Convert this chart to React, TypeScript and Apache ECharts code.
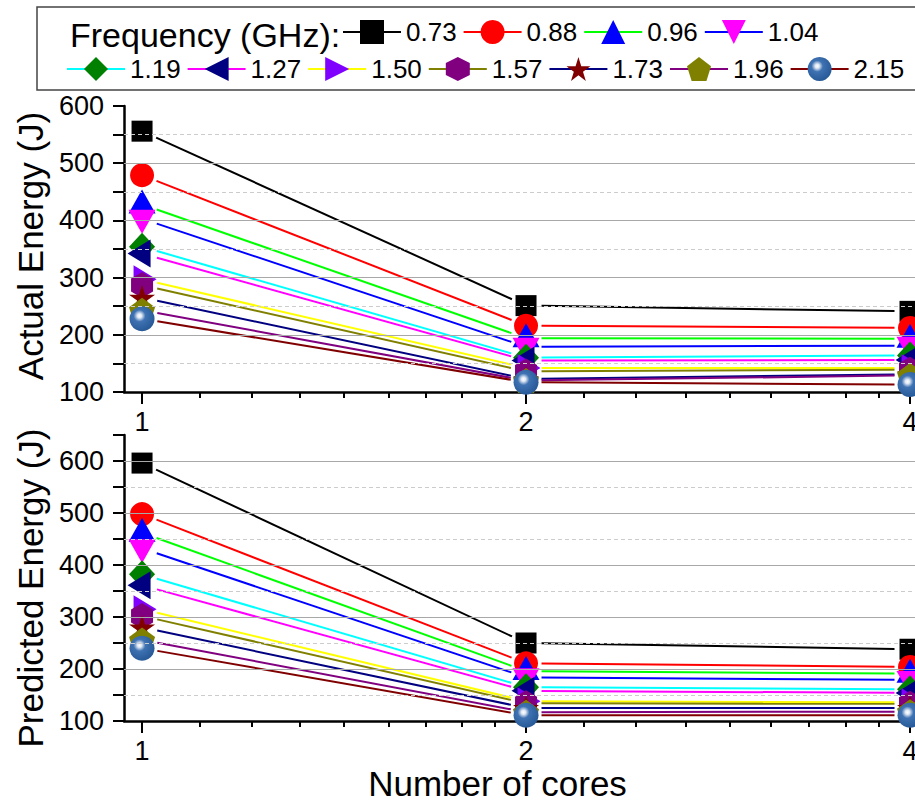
import React, { useEffect, useRef } from 'react';
import * as echarts from 'echarts';

const FONT = '"Liberation Sans", Arial, Helvetica, sans-serif';

// ---------- data ----------
const frequencies = ['0.73', '0.88', '0.96', '1.04', '1.19', '1.27', '1.50', '1.57', '1.73', '1.96', '2.15'];
const cores = [1, 2, 4];
const minorTickCores = [1.11, 1.22, 1.33, 1.44, 1.56, 1.67, 1.78, 1.89, 2.22, 2.44, 2.67, 2.89, 3.11, 3.33, 3.56, 3.78];

const actualEnergy = [
  [556, 251, 241],
  [479, 216, 212],
  [428, 194, 193],
  [403, 179, 181],
  [354, 160, 164],
  [342, 155, 156],
  [297, 142, 142],
  [287, 136, 139],
  [265, 123, 131],
  [243, 120, 129],
  [228, 117, 113],
];
const predictedEnergy = [
  [596, 250, 238],
  [498, 211, 204],
  [462, 196, 191],
  [432, 184, 179],
  [382, 165, 161],
  [361, 158, 154],
  [315, 138, 136],
  [302, 134, 133],
  [280, 125, 125],
  [256, 117, 118],
  [240, 111, 111],
];

const actualMajorGrid = [200, 300, 400, 500];
const actualMinorGrid = [150, 250, 350, 450, 550];
const predictedMajorGrid = [200, 300, 400, 500, 600];
const predictedMinorGrid = [150, 250, 350, 450, 550];

// ---------- styles ----------
const lineColors = ['#000000', '#FF0000', '#00FF00', '#0000FF', '#00FFFF', '#FF00FF', '#FFFF00', '#808000', '#000080', '#800080', '#800000'];
const sphere = new echarts.graphic.RadialGradient(0.4, 0.38, 0.62, [
  { offset: 0, color: '#ffffff' },
  { offset: 0.14, color: '#dfe8f4' },
  { offset: 0.38, color: '#3f72b2' },
  { offset: 1, color: '#285a98' },
]);
const markerColors: any[] = ['#000000', '#FF0000', '#0000FF', '#FF00FF', '#008000', '#000080', '#8000FF', '#800080', '#800000', '#808000', sphere];

const markerDefs: { symbol: string; size: number[]; offset: number[] }[] = [
  { symbol: 'rect', size: [21, 21], offset: [0, 0] },
  { symbol: 'circle', size: [24, 24], offset: [0, 0] },
  { symbol: 'triangle', size: [27, 24], offset: [0, -3] },
  { symbol: 'path://M0,0L2,0L1,2Z', size: [27, 24], offset: [0, 3] },
  { symbol: 'diamond', size: [26, 28], offset: [0, 0] },
  { symbol: 'path://M0,1L2,0L2,2Z', size: [23, 28], offset: [-3, 0] },
  { symbol: 'path://M0,0L2,1L0,2Z', size: [23, 28], offset: [3, 0] },
  { symbol: 'path://M1,0L1.866,0.5L1.866,1.5L1,2L0.134,1.5L0.134,0.5Z', size: [22, 26], offset: [0, 0] },
  { symbol: 'path://M0,-1L0.2245,-0.309L0.951,-0.309L0.3633,0.118L0.588,0.809L0,0.382L-0.588,0.809L-0.3633,0.118L-0.951,-0.309L-0.2245,-0.309Z', size: [26, 25], offset: [0, 0] },
  { symbol: 'path://M0,-1L0.951,-0.309L0.588,0.809L-0.588,0.809L-0.951,-0.309Z', size: [26, 25], offset: [0, 0] },
  { symbol: 'circle', size: [25, 25], offset: [0, 0] },
];

const GAP = 15.5;
const X_MIN = -0.047;
const X_MAX = 2.013;

function buildOption() {
  const xPos = cores.map((c) => Math.log2(c));
  const minorPos = minorTickCores.map((c) => Math.log2(c));

  const xAxesFor = (gridIndex: number, withName: boolean) => [
    {
      type: 'value',
      gridIndex,
      min: X_MIN,
      max: X_MAX,
      position: 'bottom',
      name: withName ? 'Number of cores' : '',
      nameLocation: 'middle',
      nameGap: 45,
      nameMoveOverlap: false,
      nameTextStyle: { fontSize: 35, color: '#000', fontFamily: FONT, padding: [0, 44, 0, 0] },
      axisLine: { show: true, onZero: false, lineStyle: { color: '#000', width: 2.5 } },
      axisTick: { show: true, inside: false, length: 12, customValues: xPos, lineStyle: { color: '#000', width: 2 } },
      axisLabel: {
        show: true,
        customValues: xPos,
        formatter: (v: number) => String(Math.round(Math.pow(2, v))),
        fontSize: 27,
        color: '#000',
        fontFamily: FONT,
        margin: 16,
      },
      splitLine: { show: false },
      minorTick: { show: false },
    },
    {
      type: 'value',
      gridIndex,
      min: X_MIN,
      max: X_MAX,
      position: 'bottom',
      axisLine: { show: false, onZero: false },
      axisTick: { show: true, inside: false, length: 6, customValues: minorPos, lineStyle: { color: '#000', width: 2 } },
      axisLabel: { show: false },
      splitLine: { show: false },
    },
  ];

  const yAxisFor = (gridIndex: number, max: number, name: string, pad: number[]) => ({
    type: 'value',
    gridIndex,
    min: 100,
    max,
    interval: 50,
    name,
    nameLocation: 'middle',
    nameGap: 76,
    nameMoveOverlap: false,
    nameTextStyle: { fontSize: 35, color: '#000', fontFamily: FONT, padding: pad },
    axisLine: { show: true, onZero: false, lineStyle: { color: '#000', width: 2.5 } },
    axisTick: { show: true, inside: false, length: 11, lineStyle: { color: '#000', width: 2 } },
    axisLabel: {
      fontSize: 27,
      color: '#000',
      fontFamily: FONT,
      margin: 20,
      formatter: (v: number) => (v % 100 === 0 ? String(v) : ''),
    },
    splitLine: { show: false },
  });

  const gridLineSeries = (xAxisIndex: number, yAxisIndex: number, major: number[], minor: number[]) => ({
    type: 'line',
    name: 'grid-' + yAxisIndex,
    xAxisIndex,
    yAxisIndex,
    data: [],
    z: 1,
    silent: true,
    markLine: {
      silent: true,
      symbol: 'none',
      label: { show: false },
      animation: false,
      data: [
        ...major.map((v) => ({ yAxis: v, lineStyle: { color: '#a8a8a8', type: 'solid', width: 1.2 } })),
        ...minor.map((v) => ({ yAxis: v, lineStyle: { color: '#cccccc', type: [4, 3], width: 1 } })),
      ],
    },
  });

  const segmentSeries = (values: number[], i: number, xAxisIndex: number, yAxisIndex: number) => ({
    type: 'custom',
    name: frequencies[i] + ' line',
    xAxisIndex,
    yAxisIndex,
    z: 2,
    silent: true,
    dimensions: ['x0', 'y0', 'x1', 'y1'],
    encode: { x: [0, 2], y: [1, 3] },
    data: values.slice(0, -1).map((v, j) => [xPos[j], v, xPos[j + 1], values[j + 1]]),
    renderItem: (_params: any, api: any) => {
      const a = api.coord([api.value(0), api.value(1)]);
      const b = api.coord([api.value(2), api.value(3)]);
      const dx = b[0] - a[0];
      const dy = b[1] - a[1];
      const len = Math.hypot(dx, dy) || 1;
      const ux = dx / len;
      const uy = dy / len;
      return {
        type: 'line',
        shape: { x1: a[0] + ux * GAP, y1: a[1] + uy * GAP, x2: b[0] - ux * GAP, y2: b[1] - uy * GAP },
        style: { stroke: lineColors[i], lineWidth: 2 },
      };
    },
  });

  const markerSeries = (values: number[], i: number, xAxisIndex: number, yAxisIndex: number) => ({
    type: 'line',
    name: frequencies[i],
    xAxisIndex,
    yAxisIndex,
    z: 3,
    silent: true,
    data: values.map((v, j) => [xPos[j], v]),
    symbol: markerDefs[i].symbol,
    symbolSize: markerDefs[i].size,
    symbolOffset: markerDefs[i].offset,
    showSymbol: true,
    showAllSymbol: true,
    clip: false,
    lineStyle: { color: lineColors[i], width: 2, opacity: 0 },
    itemStyle: { color: markerColors[i], borderWidth: 0, opacity: 1 },
    emphasis: { disabled: true },
  });

  const series: any[] = [
    gridLineSeries(0, 0, actualMajorGrid, actualMinorGrid),
    gridLineSeries(2, 1, predictedMajorGrid, predictedMinorGrid),
  ];
  frequencies.forEach((_f, i) => {
    series.push(markerSeries(actualEnergy[i], i, 0, 0));
    series.push(markerSeries(predictedEnergy[i], i, 2, 1));
  });
  frequencies.forEach((_f, i) => {
    series.push(segmentSeries(actualEnergy[i], i, 0, 0));
    series.push(segmentSeries(predictedEnergy[i], i, 2, 1));
  });

  const legendData = frequencies.map((f, i) => ({
    name: f,
    itemStyle: { color: markerColors[i], opacity: 1, borderWidth: 0 },
    lineStyle: { color: lineColors[i], width: 2, opacity: 1, type: 'solid' },
  }));

  const legendCommon = {
    orient: 'horizontal',
    padding: 0,
    itemWidth: 58,
    itemHeight: 30,
    itemGap: 6,
    selectedMode: false,
    textStyle: { fontSize: 26, color: '#000', fontFamily: FONT },
  };

  return {
    animation: false,
    textStyle: { fontFamily: FONT },
    grid: [
      { left: 124, right: 0, top: 106, height: 286, outerBoundsMode: 'none', containLabel: false },
      { left: 124, right: 0, top: 435, height: 286, outerBoundsMode: 'none', containLabel: false },
    ],
    xAxis: [...xAxesFor(0, false), ...xAxesFor(1, true)],
    yAxis: [
      yAxisFor(0, 600, 'Actual Energy (J)', [0, 0, 0, 6]),
      yAxisFor(1, 650, 'Predicted Energy (J)', [0, 20, 0, 0]),
    ],
    legend: [
      { ...legendCommon, left: 342, top: 19, data: legendData.slice(0, 4) },
      { ...legendCommon, left: 66, top: 56, data: legendData.slice(4) },
    ],
    graphic: [
      {
        type: 'rect',
        z: 0,
        silent: true,
        shape: { x: 37, y: 7, width: 920, height: 83 },
        style: { fill: 'none', stroke: '#444', lineWidth: 1.5 },
      },
      {
        type: 'text',
        x: 70,
        y: 35,
        silent: true,
        style: { text: 'Frequency (GHz):', fontSize: 34, fontFamily: FONT, fill: '#000', verticalAlign: 'middle', align: 'left' },
      },
    ],
    series,
  };
}

export default function App() {
  const ref = useRef<HTMLDivElement>(null);
  useEffect(() => {
    if (!ref.current) return;
    const chart = echarts.init(ref.current, null, { renderer: 'svg' });
    chart.setOption(buildOption() as any);
    return () => chart.dispose();
  }, []);
  return <div ref={ref} style={{ position: 'fixed', left: 0, top: 0, width: 915, height: 802, background: '#fff' }} />;
}
